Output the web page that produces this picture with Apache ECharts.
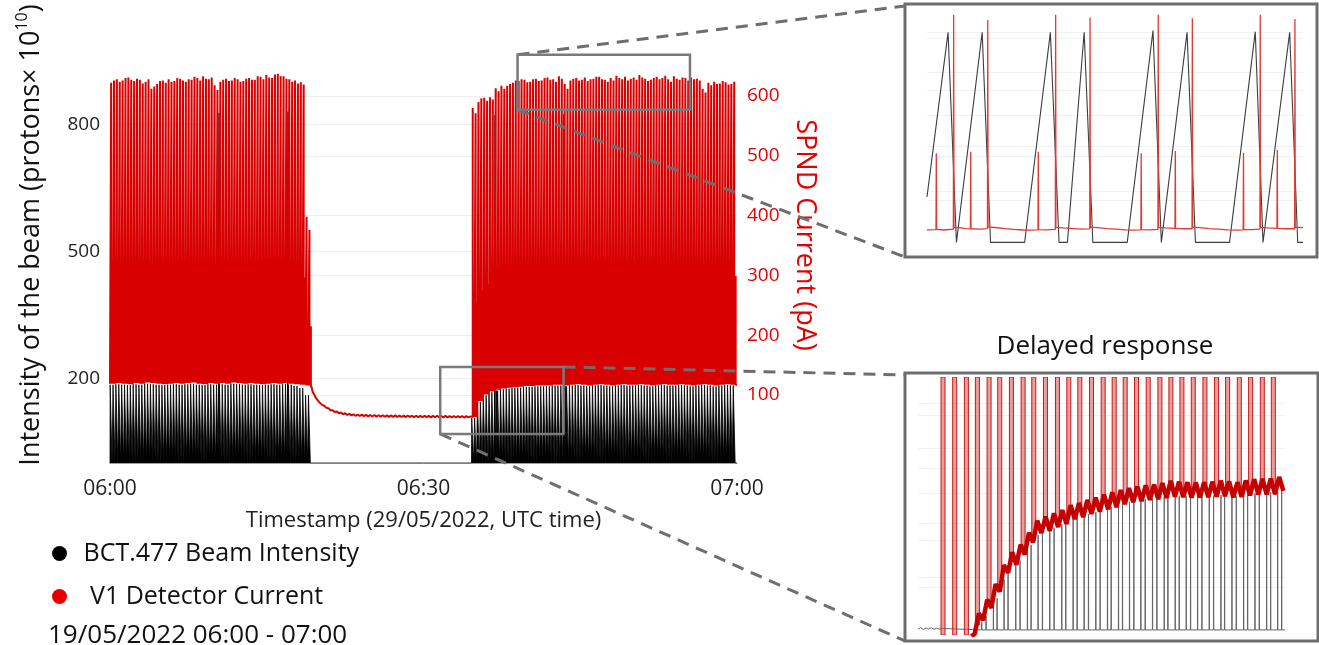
<!DOCTYPE html>
<html>
<head>
<meta charset="utf-8">
<title>BCT.477 beam intensity vs V1 SPND current</title>
<script src="https://cdn.jsdelivr.net/npm/echarts@6.0.0/dist/echarts.min.js"></script>
<style>
  html, body { margin: 0; padding: 0; background: #fff; }
  #chart { width: 1319px; height: 645px; }
</style>
</head>
<body>
<div id="chart"></div>
<script>
const FONT = 'Open Sans';
const BEAM_NAME = 'BCT.477 Beam Intensity';
const SPND_NAME = 'V1 Detector Current';

// ---- main plot (minutes after 06:00) ----
const timeTicks = ['06:00', '06:30', '07:00'];
const leftTicks = [200, 500, 800];
const rightTicks = [100, 200, 300, 400, 500, 600];

const PERIOD = 0.55; // one SPS supercycle, minutes

// first spill block, one entry per supercycle
const seg1Start = 0;
const seg1Tall = [622, 626, 628, 624, 626, 630, 631, 627, 625, 629, 627, 621, 624, 628, 612, 616, 620, 625, 626, 622,
  628, 624, 625, 630, 629, 626, 624, 628, 627, 632, 630, 626, 633, 629, 628, 631, 618, 610, 624, 627,
  629, 625, 626, 630, 628, 624, 625, 629, 630, 627, 627, 633, 632, 628, 635, 631, 630, 636, 637, 633,
  633, 629, 628, 624, 626, 621, 623, 619, 398, 376];
const seg1Small = [302, 299, 304, 301, 298, 303, 300, 297, 302, 305, 299, 301, 303, 298, 300, 304, 302, 299, 297, 301,
  303, 300, 298, 302, 305, 301, 299, 303, 300, 302, 298, 301, 299, 296, 215];
const seg1Base = [119, 120, 119, 118, 120, 119, 121, 120, 119, 118, 119, 120, 119, 120, 121, 119, 118, 120, 119, 120,
  119, 121, 120, 119, 120, 119, 118, 119, 120, 119, 120, 119, 118, 117, 116];
const seg1Beam = [185, 186, 185, 184, 186, 185, 187, 186, 185, 184, 185, 186, 185, 186, 187, 185, 184, 186, 185, 186,
  185, 187, 186, 185, 186, 185, 184, 185, 186, 185, 186, 185, 182, 177, 160];

// beam off: detector current relaxing
const offRed = [[19.30, 112], [19.40, 105], [19.55, 100.5], [19.70, 95], [19.85, 93], [20.00, 88.5], [20.15, 87],
  [20.30, 83.5], [20.50, 82], [20.70, 78.5], [20.90, 78], [21.10, 74.5], [21.30, 74.5], [21.50, 71.5], [21.70, 72.5],
  [21.90, 69.5], [22.10, 70.8], [22.30, 67.8], [22.50, 69.5], [22.70, 66.6], [22.90, 68.6], [23.10, 65.8], [23.30, 67.8],
  [23.50, 65.2], [23.70, 67.4], [23.90, 64.9], [24.10, 67.1], [24.30, 64.6], [24.50, 66.9], [24.70, 64.3], [24.90, 66.6],
  [25.10, 64.1], [25.30, 66.5], [25.50, 63.9], [25.70, 66.2], [25.90, 63.8], [26.10, 66.1], [26.30, 63.6], [26.50, 65.9],
  [26.70, 63.5], [26.90, 65.8], [27.10, 63.4], [27.30, 65.9], [27.50, 63.3], [27.70, 65.6], [27.90, 63.2], [28.10, 65.5],
  [28.30, 63.1], [28.50, 65.7], [28.70, 63.2], [28.90, 65.4], [29.10, 62.9], [29.30, 65.3], [29.50, 63.1], [29.70, 65.2],
  [29.90, 62.8], [30.10, 65.3], [30.30, 62.9], [30.50, 65.1], [30.70, 62.7], [30.90, 65.0], [31.10, 62.8], [31.30, 65.2],
  [31.50, 62.6], [31.70, 64.9], [31.90, 62.7], [32.10, 65.0], [32.30, 62.5], [32.50, 64.8], [32.70, 62.6], [32.90, 64.9],
  [33.10, 62.4], [33.30, 64.7], [33.50, 62.6], [33.70, 64.8], [33.90, 62.3], [34.10, 64.6], [34.30, 62.5], [34.50, 64.2]];

// second spill block
const seg2Start = 34.6;
const seg2Tall = [580, 571, 590, 596, 597, 592, 598, 594, 613, 608, 617, 612, 617, 620, 622, 626, 625, 628, 627, 623,
  624, 628, 629, 625, 626, 630, 631, 627, 628, 624, 633, 629, 620, 612, 626, 629, 630, 626, 627, 631,
  625, 628, 629, 632, 632, 628, 627, 624, 630, 626, 634, 630, 628, 632, 626, 629, 631, 627, 635, 631,
  629, 625, 627, 630, 632, 628, 630, 634, 628, 624, 633, 629, 627, 631, 630, 626, 631, 628, 629, 626,
  612, 606, 622, 618, 624, 620, 621, 625, 623, 619, 620, 624];
const seg2Small = [255, 275, 285, 290, 293, 296, 297, 298, 299, 297, 300, 298, 301, 299, 297, 300, 298, 302, 299, 297,
  301, 300, 298, 302, 299, 301, 297, 300, 302, 298, 299, 301, 300, 298, 302, 299, 297, 301, 300, 298,
  299, 301, 298, 300, 297, 299];
const seg2Base = [63, 90, 101, 106, 109, 111, 112, 113, 114, 115, 115, 116, 116, 116, 117, 117, 116, 117, 118, 117,
  116, 117, 118, 117, 116, 117, 118, 117, 117, 118, 117, 116, 117, 118, 117, 117, 118, 117, 116, 117,
  118, 117, 116, 117, 118, 117];
const seg2Beam = [106, 144, 160, 167, 171, 174, 176, 177, 178, 180, 180, 181, 181, 181, 183, 183, 181, 183, 184, 183,
  181, 183, 184, 183, 181, 183, 184, 183, 183, 184, 183, 181, 183, 184, 183, 183, 184, 183, 181, 183,
  184, 183, 181, 183, 184, 183];

// single-sample spikes of the beam current transformer
const glitchTime = [10.43, 17.03, 36.84, 43.44];
const glitchBeam = [827, 830, 822, 824];

// where pulses sit inside one supercycle (fraction of PERIOD), as seen on the main plot
const beamShape = [[0, 0], [0.03, 1], [0.33, 1], [0.36, 0], [0.5, 0], [0.53, 1], [0.83, 1], [0.86, 0]];
const smallAt = [0.45, 0.95];
const tallAt = [0.2, 0.7];

// zoom windows drawn on the main plot (minutes, pA)
const boxTop = { x: [39.0, 55.5], y: [577, 669] };
const boxLow = { x: [31.6, 43.4], y: [35, 147] };

// ---- top inset (seconds, arbitrary units) ----
const insetBeamX = [0, 6.8, 9.5, 17.8, 20.5, 31.5, 39.8, 42.6, 45.3, 50.7, 53.5, 64.6, 72.9, 75.6, 83.9, 86.6,
  97.6, 105.9, 108.4, 117.0, 119.6, 121.3];
const insetBeamY = [21.7, 100, 0, 100, 0, 0, 100, 0, 0, 100, 0, 0, 100.8, 0, 100, 0, 0, 100.3, 0, 100, 0, 0];
const insetRed = [[0, 6.0], [2.9, 6.1], [3.0, 42.4], [3.1, 6.2], [5.5, 5.9], [8.5, 6.3], [8.6, 108.3], [8.7, 7.2],
  [10.5, 7.0], [12.5, 6.6], [14.0, 6.4], [14.1, 43.2], [14.2, 6.5], [17.0, 6.3], [19.5, 6.6], [19.6, 105.9], [19.7, 7.4],
  [22, 7.1], [25, 6.6], [28, 6.2], [31, 5.9], [33.5, 5.8], [35.8, 6.0], [35.9, 43.2], [36.0, 6.1], [38.5, 6.0],
  [41.4, 6.2], [41.5, 108.3], [41.6, 7.2], [44, 6.9], [47, 6.6], [50, 6.3], [52.5, 6.4], [52.6, 107], [52.7, 7.3],
  [55, 7.0], [58, 6.6], [61, 6.3], [64, 6.0], [66.5, 5.8], [69.0, 6.0], [69.1, 42.4], [69.2, 6.1], [72, 6.0],
  [74.5, 6.2], [74.6, 108.3], [74.7, 7.2], [77, 6.9], [80.0, 6.7], [80.1, 43.5], [80.2, 6.7], [83, 6.5], [85.5, 6.5],
  [85.6, 106.7], [85.7, 7.3], [88, 7.0], [91, 6.6], [94, 6.3], [97, 6.0], [100, 5.8], [102.0, 6.0], [102.1, 42.7],
  [102.2, 6.1], [105, 6.1], [107.4, 6.3], [107.5, 108.3], [107.6, 7.2], [110, 6.9], [112.9, 6.7], [113.0, 44],
  [113.1, 6.7], [116, 6.5], [118.6, 6.5], [118.7, 106.3], [118.8, 7.3], [121.3, 7.0]];
const insetTopGrid = [20.2, 24.4, 40.8, 45.6, 60.6, 72.5, 80.8, 97.1, 100];

// ---- bottom inset "Delayed response" ----
const floorX = [0, 0.8, 1.6, 2.4, 3.2, 4.0, 4.8, 5.6, 6.4, 7.2];
const floorY = [0.3, 0.9, 0.2, 0.8, 0.3, 0.9, 0.2, 0.7, 0.3, 0.6];
const spikeX = [7.5, 11.0, 14.5, 17.8, 21.3, 24.5, 28.0, 31.5, 34.7, 38.2, 41.8, 45.2, 48.5, 52.0, 55.5, 58.8,
  62.1, 65.5, 69.0, 72.5, 75.8, 79.1, 82.5, 86.0, 89.5, 92.8, 96.3, 99.7, 103.2, 106.5];
const spikeBase = [-2, -2, -2, 2, 10, 18, 27, 32, 37.5, 41.5, 43.5, 45.5, 47, 49, 50.5, 51.5,
  52.7, 53.6, 54.2, 54.8, 55.7, 55.6, 55.3, 55.3, 55.6, 55.8, 55.3, 56.2, 56.6, 56.6];
const lagBeamX = [19.1, 20.4, 22.6, 23.7, 25.8, 27.0, 29.3, 30.6, 32.8, 33.9, 36.0, 37.3, 39.5, 40.8, 43.1, 44.3,
  46.5, 47.7, 49.8, 51.1, 53.3, 54.6, 56.8, 57.9, 60.1, 61.3, 63.4, 64.7, 66.8, 68.1, 70.3, 71.6, 73.8, 74.9,
  77.1, 78.3, 80.4, 81.7, 83.8, 85.1, 87.3, 88.6, 90.8, 91.9, 94.1, 95.4, 97.6, 98.8, 101.0, 102.3, 104.5, 105.7,
  107.8, 109.0];
const lagBeamTop = [3, 5.5, 10, 12.5, 20, 23, 25.5, 27.5, 31.5, 33.5, 37.5, 38.5, 39.8, 40.5, 41.8, 42.4,
  44, 44.5, 45.2, 45.8, 46.6, 47.2, 48.3, 48.6, 49.5, 50, 50.6, 51, 51.5, 51.7, 51.9, 52.1, 52.6, 53,
  53.4, 53.1, 52.9, 52.8, 52.8, 52.8, 52.9, 53.1, 53.3, 53.4, 53.1, 52.9, 53.2, 53.6, 54, 54.1, 54.2, 54.4,
  54.6, 55];
const bandX = [16.0, 17.0, 18.25, 19.5, 20.75, 22.0, 23.25, 24.5, 25.75, 27.0, 28.25, 29.5, 30.75, 32.0, 33.25,
  34.5, 35.75, 37.0, 38.25, 39.5, 40.75, 42.0, 43.25, 44.5, 45.75, 47.0, 48.25, 49.5, 50.75, 52.0, 53.25, 54.5,
  55.75, 57.0, 58.25, 59.5, 60.75, 62.0, 63.25, 64.5, 65.75, 67.0, 68.25, 69.5, 70.75, 72.0, 73.25, 74.5, 75.75,
  77.0, 78.25, 79.5, 80.75, 82.0, 83.25, 84.5, 85.75, 87.0, 88.25, 89.5, 90.75, 92.0, 93.25, 94.5, 95.75, 97.0,
  98.25, 99.5, 100.75, 102.0, 103.25, 104.5, 105.75, 107.0, 108.25, 109.5];
const bandY = [-2.5, -1.5, 6.5, 3.8, 12.0, 8.7, 18.1, 15.1, 25.6, 22.6, 30.7, 25.8, 33.7, 29.8, 38.5,
  34.6, 43.2, 38.3, 44.8, 39.2, 46.1, 40.7, 47.4, 41.9, 49.3, 43.8, 50.2, 44.6, 51.4, 45.9, 52.3, 46.8,
  53.5, 47.7, 54.4, 48.5, 55.3, 49.7, 56.1, 50.5, 56.7, 50.9, 57.2, 51.4, 57.5, 51.7, 58.1, 52.2, 59.0,
  52.7, 58.6, 52.5, 58.4, 52.3, 58.3, 52.4, 58.4, 52.5, 58.6, 52.7, 59.0, 52.9, 58.7, 52.4, 58.4, 52.6,
  59.1, 53.2, 59.6, 53.6, 59.7, 53.6, 59.8, 53.7, 60.5, 55.0];
const lagGrid = [17, 21, 35.5, 42, 54, 64, 72, 85, 89.5];

// ---- build the series data ----
const r4 = v => Math.round(v * 10000) / 10000;
const beamData = [];
const spndData = [];

function addBlock(start, tall, small, base, beam) {
  base.forEach((b, k) => {
    const t0 = start + k * PERIOD;
    beamShape.forEach(([f, lvl]) => beamData.push([r4(t0 + f * PERIOD), lvl * beam[k]]));
    const spikes = [[tallAt[0], tall[2 * k]], [smallAt[0], small[k]], [tallAt[1], tall[2 * k + 1]], [smallAt[1], small[k]]];
    spndData.push([r4(t0), b]);
    spikes.forEach(([f, v]) => {
      spndData.push([r4(t0 + (f - 0.002) * PERIOD), b], [r4(t0 + f * PERIOD), v], [r4(t0 + (f + 0.002) * PERIOD), b]);
    });
  });
}

addBlock(seg1Start, seg1Tall, seg1Small, seg1Base, seg1Beam);
offRed.forEach(p => spndData.push(p));
beamData.push([seg2Start - 0.01, 0]);
addBlock(seg2Start, seg2Tall, seg2Small, seg2Base, seg2Beam);
beamData.push([60, 0]);
spndData.push([60, seg2Base[seg2Base.length - 1]]);
glitchTime.forEach((t, i) => beamData.push([t - 0.003, 0], [t, glitchBeam[i]], [t + 0.003, 0]));
beamData.sort((a, b) => a[0] - b[0]);

const insetBeam = insetBeamX.map((x, i) => [x, insetBeamY[i]]);

const lagBeam = floorX.map((x, i) => [x, floorY[i]]);
lagBeamX.forEach((x, i) => lagBeam.push([x - 0.05, 0], [x, lagBeamTop[i]], [x + 0.05, 0]));
lagBeam.push([110, 0]);
const lagBand = bandX.map((x, i) => [x, bandY[i]]);
const lagSpikes = spikeX.map((x, i) => [x, spikeBase[i]]);

// ---- chart ----
const chart = echarts.init(document.getElementById('chart'));

const hidden = { show: false };
const option = {
  animation: false,
  backgroundColor: '#fff',
  textStyle: { fontFamily: FONT },
  legend: {
    data: [BEAM_NAME, SPND_NAME],
    orient: 'vertical',
    left: 47,
    top: 534,
    icon: 'circle',
    itemWidth: 38,
    itemHeight: 15,
    itemGap: 14,
    formatter: n => (n === SPND_NAME ? ' ' + n : n),
    textStyle: { fontSize: 25, color: '#111', fontFamily: FONT, lineHeight: 29 }
  },
  grid: [
    { left: 110, top: 7, width: 627, height: 456 },
    { left: 927, top: 13.4, width: 376, height: 229 },
    { left: 918, top: 377, width: 367, height: 258 }
  ],
  xAxis: [
    {
      gridIndex: 0, type: 'value', min: 0, max: 60, interval: 30,
      axisLine: { lineStyle: { color: '#a0a0a0', width: 1 } },
      axisTick: hidden, splitLine: hidden,
      axisLabel: { formatter: v => timeTicks[v / 30], fontSize: 21, color: '#222', margin: 16 },
      name: 'Timestamp (29/05/2022, UTC time)', nameLocation: 'middle', nameGap: 47,
      nameTextStyle: { fontSize: 22, color: '#222' }
    },
    { gridIndex: 1, type: 'value', min: 0, max: 121.3, show: false },
    { gridIndex: 2, type: 'value', min: 0, max: 110, show: false }
  ],
  yAxis: [
    {
      gridIndex: 0, position: 'left', min: 0, max: 1077.5,
      axisLine: hidden,
      axisTick: { show: false, customValues: leftTicks },
      axisLabel: { customValues: leftTicks, fontSize: 19, color: '#222', margin: 10 },
      splitLine: { show: true, lineStyle: { color: '#eeeeee' } },
      name: 'Intensity of the beam (protons× 10{sup|10})', nameLocation: 'middle', nameGap: 62, nameRotate: 90,
      nameTextStyle: {
        fontSize: 27, color: '#111', lineHeight: 34,
        rich: { sup: { fontSize: 16, verticalAlign: 'top', lineHeight: 34, color: '#111' } }
      }
    },
    {
      gridIndex: 0, position: 'right', min: -13.7, max: 748.8,
      axisLine: hidden,
      axisTick: { show: false, customValues: rightTicks },
      axisLabel: { customValues: rightTicks, fontSize: 19, color: '#e60000', margin: 10 },
      splitLine: { show: true, lineStyle: { color: '#eeeeee' } },
      name: 'SPND Current (pA)', nameLocation: 'middle', nameGap: 54, nameRotate: -90,
      nameTextStyle: { fontSize: 27, color: '#e60000' }
    },
    {
      gridIndex: 1, min: 0, max: 109,
      axisLine: hidden, axisLabel: hidden,
      axisTick: { show: false, customValues: insetTopGrid },
      splitLine: { show: true, lineStyle: { color: '#f1f1f1' } }
    },
    {
      gridIndex: 2, min: -2, max: 100,
      axisLine: hidden, axisLabel: hidden,
      axisTick: { show: false, customValues: lagGrid },
      splitLine: { show: true, lineStyle: { color: '#f1f1f1' } }
    }
  ],
  series: [
    {
      name: BEAM_NAME, type: 'line', xAxisIndex: 0, yAxisIndex: 0, data: beamData,
      showSymbol: false, z: 2,
      lineStyle: { color: '#000', width: 0.8 }, itemStyle: { color: '#000' },
      areaStyle: { color: '#000', opacity: 1 }
    },
    {
      name: SPND_NAME, type: 'line', xAxisIndex: 0, yAxisIndex: 1, data: spndData,
      showSymbol: false, z: 3,
      lineStyle: { color: '#d80000', width: 2 }, itemStyle: { color: '#e80000' }
    },
    {
      name: 'inset beam', type: 'line', xAxisIndex: 1, yAxisIndex: 2, data: insetBeam,
      showSymbol: false, z: 2, lineStyle: { color: '#3d3d3d', width: 1.1 }
    },
    {
      name: 'inset spnd', type: 'line', xAxisIndex: 1, yAxisIndex: 2, data: insetRed,
      showSymbol: false, z: 3, lineStyle: { color: '#e03a34', width: 1.3 }
    },
    {
      name: 'lag beam', type: 'line', xAxisIndex: 2, yAxisIndex: 3, data: lagBeam,
      showSymbol: false, z: 2, lineStyle: { color: '#666', width: 1 }
    },
    {
      name: 'lag spikes', type: 'custom', xAxisIndex: 2, yAxisIndex: 3, data: lagSpikes, z: 3, clip: true,
      renderItem: (params, api) => {
        const lo = api.coord([api.value(0), api.value(1)]);
        const hi = api.coord([api.value(0), 100]);
        return {
          type: 'rect',
          shape: { x: lo[0] - 2, y: hi[1], width: 4, height: lo[1] - hi[1] },
          style: { fill: 'rgba(226,96,96,0.62)', stroke: '#c21a1a', lineWidth: 1 }
        };
      }
    },
    {
      name: 'lag spnd', type: 'line', xAxisIndex: 2, yAxisIndex: 3, data: lagBand,
      showSymbol: false, z: 4, lineStyle: { color: '#c40000', width: 4.5 }
    }
  ]
};
chart.setOption(option);

// ---- annotations: zoom boxes, inset frames, connector lines ----
const px = (x, y) => chart.convertToPixel({ xAxisIndex: 0, yAxisIndex: 1 }, [x, y]);
const t1 = px(boxTop.x[0], boxTop.y[1]);
const t2 = px(boxTop.x[1], boxTop.y[0]);
const l1 = px(boxLow.x[0], boxLow.y[1]);
const l2 = px(boxLow.x[1], boxLow.y[0]);
const frameTop = { x: 905, y: 4, w: 412, h: 253 };
const frameLow = { x: 905, y: 373, w: 413, h: 268 };

const boxStyle = { fill: 'none', stroke: '#7a7a7a', lineWidth: 2.5 };
const frameStyle = { fill: 'none', stroke: '#6e6e6e', lineWidth: 3 };
const dashStyle = { stroke: '#6e6e6e', lineWidth: 3, lineDash: [12, 8] };

const rect = (a, b, style) => ({ type: 'rect', z: 100, shape: { x: a[0], y: a[1], width: b[0] - a[0], height: b[1] - a[1] }, style });
const dash = (a, b) => ({ type: 'line', z: 99, shape: { x1: a[0], y1: a[1], x2: b[0], y2: b[1] }, style: dashStyle });

chart.setOption({
  graphic: [
    rect(t1, t2, boxStyle),
    rect(l1, l2, boxStyle),
    { type: 'rect', z: 100, shape: { x: frameTop.x, y: frameTop.y, width: frameTop.w, height: frameTop.h }, style: frameStyle },
    { type: 'rect', z: 100, shape: { x: frameLow.x, y: frameLow.y, width: frameLow.w, height: frameLow.h }, style: frameStyle },
    dash([t1[0], t1[1]], [frameTop.x, frameTop.y + 2]),
    dash([t1[0], t2[1]], [frameTop.x, frameTop.y + frameTop.h]),
    dash([l2[0], l1[1]], [frameLow.x, frameLow.y + 2]),
    dash([l1[0], l2[1]], [frameLow.x, frameLow.y + frameLow.h]),
    {
      type: 'text', z: 100, x: 1105, y: 347,
      style: { text: 'Delayed response', fontSize: 26, fontFamily: FONT, fill: '#111', align: 'center', verticalAlign: 'middle' }
    },
    {
      type: 'text', z: 100, x: 48, y: 636,
      style: { text: '19/05/2022 06:00 - 07:00', fontSize: 26, fontFamily: FONT, fill: '#111', align: 'left', verticalAlign: 'middle' }
    }
  ]
});
</script>
</body>
</html>
